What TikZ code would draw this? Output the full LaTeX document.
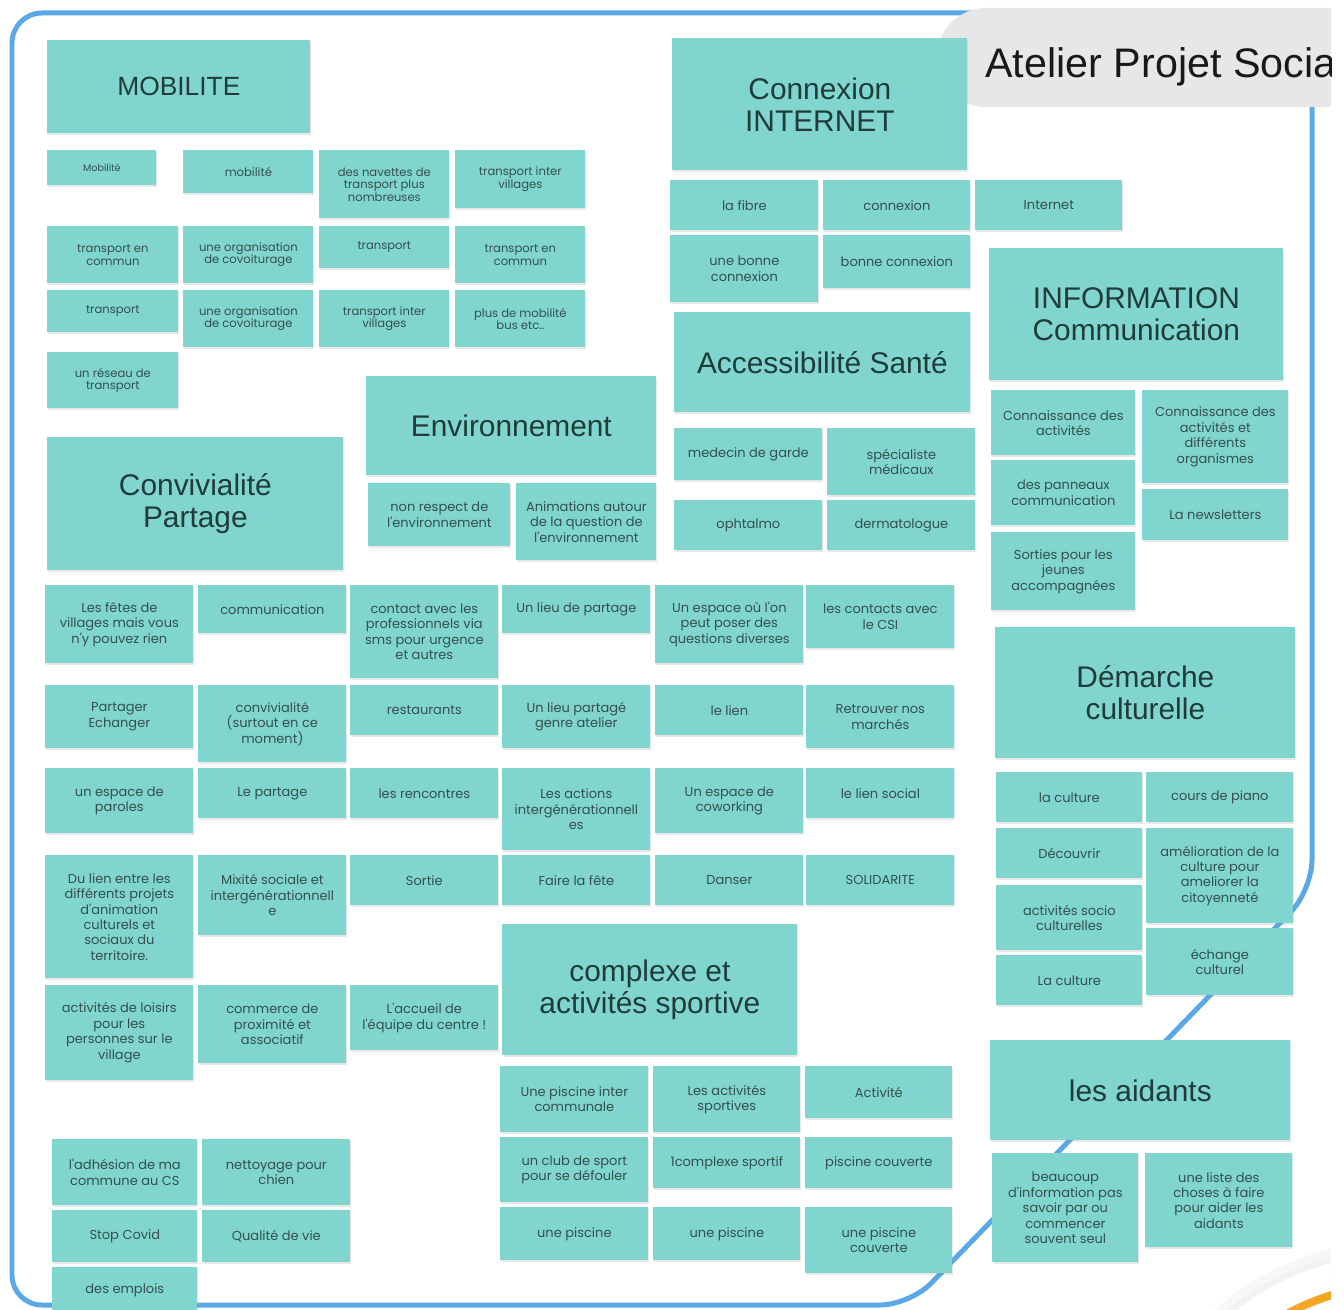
\documentclass[tikz,border=0pt]{standalone}
\usepackage{fontspec}
\setmainfont{Liberation Sans}
\newfontfamily\notefont{Poppins}
\usetikzlibrary{shadows}

\definecolor{cardteal}{HTML}{80D6CE}
\definecolor{cardtext}{HTML}{344F4D}
\definecolor{headtext}{HTML}{1F3C3B}
\definecolor{frameblue}{HTML}{5AA9E6}
\definecolor{pillgray}{HTML}{E7E7E7}
\definecolor{sunorange}{HTML}{F2A622}

\begin{document}
\begin{tikzpicture}[x=0.02cm, y=-0.02cm,
  card/.style={fill=cardteal, anchor=north west, inner sep=0pt, align=center, text=cardtext,
    drop shadow={shadow xshift=0.4pt, shadow yshift=-0.9pt, opacity=0.18}},
  note/.style={card, font=\notefont\fontsize{7.4}{8.8}\selectfont},
  mobnote/.style={card, font=\notefont\fontsize{6.6}{7.1}\selectfont},
  head/.style={card, text=headtext, font=\fontsize{17}{18.2}\selectfont},
  wh/.style 2 args={minimum width=#1*0.02cm, minimum height=#2*0.02cm}]

\useasboundingbox (0,0) rectangle (1344,1310);

% frame and corner
\draw[frameblue, line width=0.1cm, rounded corners=0.6cm]
  (12,13) -- (1312,13) -- (1312,890) -- (910,1305) -- (12,1305) -- cycle;

\begin{scope}
\clip (0,0) rectangle (1331,1310);
\fill[black!3] (1400,1520) circle (280);
\fill[black!5] (1400,1520) circle (272);
\fill[white] (1400,1520) circle (266);
\draw[sunorange, line width=0.16cm] (1400,1520) circle (235);
\fill[pillgray, rounded corners=0.98cm] (1400,8) -- (937,8) -- (937,107) -- (1400,107);
\node[anchor=base west, inner sep=0pt, text=black!90, font=\fontsize{23.5}{26}\selectfont]
  (titre) at (985,78) {Atelier Projet Social};
\end{scope}

% -------- MOBILITE -----------
\node[head, wh={263}{93}, font=\fontsize{15}{17}\selectfont] (mobilite) at (47,40) {MOBILITE};
\node[mobnote, wh={109}{35}, font=\notefont\fontsize{5.5}{6.5}\selectfont] (mob1) at (47,150) {Mobilité};
\node[mobnote, wh={130}{43}] (mob2) at (183,150) {mobilité};
\node[mobnote, wh={130}{68}] (mob3) at (319,150) {des navettes de\\transport plus\\nombreuses};
\node[mobnote, wh={130}{58}] (mob4) at (455,150) {transport inter\\villages};
\node[mobnote, wh={131}{57}] (mob5) at (47,226) {transport en\\commun};
\node[mobnote, wh={130}{57}] (mob6) at (183,226) {une organisation\\de covoiturage};
\node[mobnote, wh={130}{42}] (mob7) at (319,226) {transport};
\node[mobnote, wh={130}{57}] (mob8) at (455,226) {transport en\\commun};
\node[mobnote, wh={131}{42}] (mob9) at (47,290) {transport};
\node[mobnote, wh={130}{57}] (mob10) at (183,290) {une organisation\\de covoiturage};
\node[mobnote, wh={130}{57}] (mob11) at (319,290) {transport inter\\villages};
\node[mobnote, wh={130}{57}] (mob12) at (455,290) {plus de mobilité\\bus etc..};
\node[mobnote, wh={131}{56}] (mob13) at (47,352) {un réseau de\\transport};

% -------- Connexion INTERNET -----------
\node[head, wh={295}{132}] (internet) at (672,38) {Connexion\\INTERNET};
\node[note, wh={148}{50}] (net1) at (670,180) {la fibre};
\node[note, wh={147}{50}] (net2) at (823,180) {connexion};
\node[note, wh={147}{50}] (net3) at (975,180) {Internet};
\node[note, wh={148}{67}] (net4) at (670,235) {une bonne\\connexion};
\node[note, wh={147}{53}] (net5) at (823,235) {bonne connexion};

% -------- INFORMATION -----------
\node[head, wh={294}{132}] (info) at (989,248) {INFORMATION\\Communication};
\node[note, wh={144}{65}] (info1) at (991,390) {Connaissance des\\activités};
\node[note, wh={146}{93}] (info2) at (1142,390) {Connaissance des\\activités et\\différents\\organismes};
\node[note, wh={144}{65}] (info3) at (991,460) {des panneaux\\communication};
\node[note, wh={146}{51}] (info4) at (1142,489) {La newsletters};
\node[note, wh={144}{78}] (info5) at (991,532) {Sorties pour les\\jeunes\\accompagnées};

% -------- Accessibilite Sante -----------
\node[head, wh={296}{100}] (sante) at (674,312) {Accessibilité Santé};
\node[note, wh={148}{52}] (sante1) at (674,428) {medecin de garde};
\node[note, wh={148}{67}] (sante2) at (827,428) {spécialiste\\médicaux};
\node[note, wh={148}{50}] (sante3) at (674,500) {ophtalmo};
\node[note, wh={148}{50}] (sante4) at (827,500) {dermatologue};

% -------- Environnement -----------
\node[head, wh={290}{99}] (envir) at (366,376) {Environnement};
\node[note, wh={142}{63}] (envir1) at (368,483) {non respect de\\l'environnement};
\node[note, wh={140}{77}] (envir2) at (516,483) {Animations autour\\de la question de\\l'environnement};

% -------- Convivialite Partage -----------
\node[head, wh={296}{133}] (convi) at (47,437) {Convivialité\\Partage};

% First row
\node[note, wh={148}{78}] (conA1) at (45,585) {Les fêtes de\\villages mais vous\\n'y pouvez rien};
\node[note, wh={148}{48}] (conA2) at (198,585) {communication};
\node[note, wh={148}{93}] (conA3) at (350,585) {contact avec les\\professionnels via\\sms pour urgence\\et autres};
\node[note, wh={148}{48}] (conA4) at (502,585) {Un lieu de partage};
\node[note, wh={148}{78}] (conA5) at (655,585) {Un espace où l'on\\peut poser des\\questions diverses};
\node[note, wh={148}{63}] (conA6) at (806,585) {les contacts avec\\le CSI};

% Second row
\node[note, wh={148}{63}] (conB1) at (45,685) {Partager\\Echanger};
\node[note, wh={148}{77}] (conB2) at (198,685) {convivialité\\(surtout en ce\\moment)};
\node[note, wh={148}{50}] (conB3) at (350,685) {restaurants};
\node[note, wh={148}{63}] (conB4) at (502,685) {Un lieu partagé\\genre atelier};
\node[note, wh={148}{50}] (conB5) at (655,685) {le lien};
\node[note, wh={148}{63}] (conB6) at (806,685) {Retrouver nos\\marchés};

% Third row
\node[note, wh={148}{65}] (conC1) at (45,768) {un espace de\\paroles};
\node[note, wh={148}{50}] (conC2) at (198,768) {Le partage};
\node[note, wh={148}{50}] (conC3) at (350,768) {les rencontres};
\node[note, wh={148}{82}] (conC4) at (502,768) {Les actions\\intergénérationnell\\es};
\node[note, wh={148}{65}] (conC5) at (655,768) {Un espace de\\coworking};
\node[note, wh={148}{50}] (conC6) at (806,768) {le lien social};

% Fourth row
\node[note, wh={148}{123}] (conD1) at (45,855) {Du lien entre les\\différents projets\\d'animation\\culturels et\\sociaux du\\territoire.};
\node[note, wh={148}{80}] (conD2) at (198,855) {Mixité sociale et\\intergénérationnell\\e};
\node[note, wh={148}{50}] (conD3) at (350,855) {Sortie};
\node[note, wh={148}{50}] (conD4) at (502,855) {Faire la fête};
\node[note, wh={148}{50}] (conD5) at (655,855) {Danser};
\node[note, wh={148}{50}] (conD6) at (806,855) {SOLIDARITE};

% Fifth row
\node[note, wh={148}{95}] (conE1) at (45,985) {activités de loisirs\\pour les\\personnes sur le\\village};
\node[note, wh={148}{78}] (conE2) at (198,985) {commerce de\\proximité et\\associatif};
\node[note, wh={148}{65}] (conE3) at (350,985) {L'accueil de\\l'équipe du centre !};

% -------- complexe et activites sportive -----------
\node[head, wh={295}{131}] (sport) at (502,924) {complexe et\\activités sportive};
\node[note, wh={148}{66}] (sport1) at (500,1066) {Une piscine inter\\communale};
\node[note, wh={147}{66}] (sport2) at (653,1066) {Les activités\\sportives};
\node[note, wh={147}{52}] (sport3) at (805,1066) {Activité};
\node[note, wh={148}{65}] (sport4) at (500,1137) {un club de sport\\pour se défouler};
\node[note, wh={147}{51}] (sport5) at (653,1137) {1complexe sportif};
\node[note, wh={147}{51}] (sport6) at (805,1137) {piscine couverte};
\node[note, wh={148}{53}] (sport7) at (500,1207) {une piscine};
\node[note, wh={147}{53}] (sport8) at (653,1207) {une piscine};
\node[note, wh={147}{66}] (sport9) at (805,1207) {une piscine\\couverte};

% -------- loose notes, bottom left -----------
\node[note, wh={145}{66}] (divers1) at (52,1139) {l'adhésion de ma\\commune au CS};
\node[note, wh={148}{66}] (divers2) at (202,1139) {nettoyage pour\\chien};
\node[note, wh={145}{52}] (divers3) at (52,1210) {Stop Covid};
\node[note, wh={148}{52}] (divers4) at (202,1210) {Qualité de vie};
\node[note, wh={145}{46}] (divers5) at (52,1267) {des emplois};

% -------- Demarche culturelle -----------
\node[head, wh={300}{131}] (culture) at (995,627) {Démarche\\culturelle};
\node[note, wh={146}{50}] (cult1) at (996,772) {la culture};
\node[note, wh={147}{50}] (cult2) at (1146,772) {cours de piano};
\node[note, wh={146}{50}] (cult3) at (996,828) {Découvrir};
\node[note, wh={147}{95}] (cult4) at (1146,828) {amélioration de la\\culture pour\\ameliorer la\\citoyenneté};
\node[note, wh={146}{65}] (cult5) at (996,885) {activités socio\\culturelles};
\node[note, wh={147}{67}] (cult6) at (1146,928) {échange\\culturel};
\node[note, wh={146}{50}] (cult7) at (996,955) {La culture};

% -------- les aidants -----------
\node[head, wh={300}{100}] (aidants) at (990,1040) {les aidants};
\node[note, wh={146}{109}] (aid1) at (992,1153) {beaucoup\\d'information pas\\savoir par ou\\commencer\\souvent seul};
\node[note, wh={147}{94}] (aid2) at (1145,1153) {une liste des\\choses à faire\\pour aider les\\aidants};

\end{tikzpicture}
\end{document}
